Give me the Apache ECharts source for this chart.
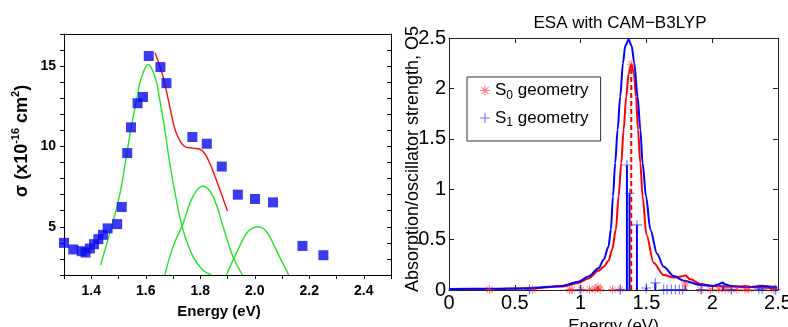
<!DOCTYPE html>
<html>
<head>
<meta charset="utf-8">
<script src="https://cdn.jsdelivr.net/npm/echarts@6/dist/echarts.min.js"></script>
<style>
  html, body { margin: 0; padding: 0; background: #fff; }
  #chart { width: 788px; height: 327px; }
</style>
</head>
<body>
<div id="chart"></div>
<script>
// ---- left panel: measured cross-section (blue squares) + gaussian fit ----
const absX = [1.300, 1.334, 1.365, 1.379, 1.395, 1.410, 1.426, 1.443, 1.460, 1.495, 1.512, 1.532, 1.546,
  1.570, 1.590, 1.611, 1.654, 1.676, 1.771, 1.824, 1.879, 1.938, 2.001, 2.067, 2.175, 2.252];
const absY = [4.00, 3.59, 3.48, 3.40, 3.65, 3.92, 4.23, 4.50, 4.90, 5.17, 6.23, 9.59, 11.19,
  12.69, 13.08, 15.63, 14.94, 13.94, 10.59, 10.17, 8.75, 7.00, 6.73, 6.52, 3.81, 3.23];

const g1X = [1.434, 1.471, 1.503, 1.525, 1.545, 1.569, 1.582, 1.609, 1.637, 1.649, 1.670, 1.688, 1.710, 1.737, 1.774, 1.810, 1.841];
const g1Y = [2.61, 4.79, 6.88, 8.96, 11.04, 13.13, 14.17, 15.10, 14.17, 13.13, 11.04, 8.96, 6.88, 4.79, 3.13, 2.29, 2.00];
const g2X = [1.670, 1.700, 1.737, 1.773, 1.810, 1.847, 1.884, 1.920, 1.955];
const g2Y = [2.00, 3.75, 5.21, 6.88, 7.54, 6.88, 5.00, 3.13, 2.00];
const g3X = [1.896, 1.926, 1.969, 1.990, 2.012, 2.035, 2.055, 2.091, 2.125];
const g3Y = [2.00, 3.13, 4.58, 4.90, 5.00, 4.85, 4.38, 3.13, 2.00];
const fitX = [1.634, 1.663, 1.688, 1.712, 1.743, 1.773, 1.804, 1.829, 1.859, 1.900];
const fitY = [15.84, 14.38, 12.50, 10.84, 10.00, 9.90, 9.79, 9.17, 7.92, 5.98];

// ---- right panel: ESA spectra (CAM-B3LYP) ----
const s1CurveX = [0, 0.30, 0.60, 0.86, 0.984, 1.06, 1.136, 1.175, 1.212, 1.230, 1.246, 1.263, 1.281, 1.301, 1.322, 1.339,
  1.365, 1.388, 1.408, 1.433, 1.454, 1.471, 1.497, 1.530, 1.581, 1.631, 1.707, 1.783, 1.910, 2.011, 2.045,
  2.075, 2.105, 2.138, 2.265, 2.367, 2.494];
const s1CurveY = [0.010, 0.012, 0.018, 0.040, 0.083, 0.133, 0.215, 0.30, 0.43, 0.60, 0.93, 1.26, 1.59, 1.92, 2.25, 2.42,
  2.485, 2.42, 2.25, 1.92, 1.59, 1.26, 0.93, 0.60, 0.36, 0.23, 0.139, 0.093, 0.050, 0.040, 0.055,
  0.073, 0.055, 0.040, 0.027, 0.040, 0.027];
const s0CurveX = [0, 0.30, 0.60, 0.86, 0.984, 1.06, 1.136, 1.175, 1.212, 1.240, 1.268, 1.289, 1.309, 1.327, 1.347, 1.365,
  1.385, 1.405, 1.421, 1.436, 1.454, 1.471, 1.500, 1.555, 1.631, 1.707, 1.758, 1.796, 1.834, 1.910, 2.011,
  2.113, 2.215, 2.250, 2.316, 2.494];
const s0CurveY = [0.010, 0.011, 0.016, 0.035, 0.070, 0.115, 0.190, 0.23, 0.29, 0.40, 0.60, 0.93, 1.26, 1.59, 1.92, 2.15,
  2.24, 2.15, 1.92, 1.59, 1.26, 0.93, 0.55, 0.27, 0.149, 0.123, 0.133, 0.143, 0.106, 0.060, 0.040,
  0.033, 0.035, 0.040, 0.027, 0.013];

// oscillator strengths (sticks)
const s0X = [0.307, 0.634, 0.916, 0.934, 1.005, 1.068, 1.111, 1.132, 1.149, 1.243, 1.301, 1.385, 1.796,
  1.910, 1.986, 2.050, 2.100, 2.146, 2.189, 2.248, 2.278, 2.468];
const s0Y = [0.004, 0.004, 0.004, 0.004, 0.004, 0.006, 0.01, 0.03, 0.008, 0.004, 0.006, 2.24, 0.07,
  0.004, 0.004, 0.008, 0.01, 0.006, 0.006, 0.01, 0.006, 0.004];
const s1X = [0.611, 0.997, 1.301, 1.352, 1.372, 1.428, 1.499, 1.568, 1.631, 1.657, 1.690, 1.720, 1.750,
  1.776, 1.918, 2.083, 2.146, 2.354, 2.380, 2.481];
const s1Y = [0.004, 0.004, 0.006, 1.24, 0.96, 0.646, 0.02, 0.07, 0.004, 0.004, 0.004, 0.004, 0.004,
  0.004, 0.004, 0.04, 0.006, 0.008, 0.008, 0.004];

const pairs = (xs, ys) => xs.map((x, i) => [x, ys[i]]);

const plusPath = 'path://M4.4,0h1.2v4.4h4.4v1.2h-4.4v4.4h-1.2v-4.4h-4.4v-1.2h4.4z';
const starPath = 'path://M4.45,0h1.1v10h-1.1z M0,4.45h10v1.1h-10z M1.2,1.9L1.9,1.2L8.8,8.1L8.1,8.8z M8.1,1.2L8.8,1.9L1.9,8.8L1.2,8.1z';

const boldFont = { fontFamily: 'Liberation Sans', fontWeight: 'bold', color: '#000' };
const plainFont = { fontFamily: 'Liberation Sans', fontWeight: 'normal', color: '#000' };

const chart = echarts.init(document.getElementById('chart'));

function stemItem(color, dash) {
  return function (params, api) {
    const p0 = api.coord([api.value(0), 0]);
    const p1 = api.coord([api.value(0), api.value(1)]);
    return {
      type: 'line',
      shape: { x1: p0[0], y1: p0[1], x2: p1[0], y2: p1[1] },
      style: { stroke: color, lineWidth: 2, lineDash: dash }
    };
  };
}

const option = {
  animation: false,
  backgroundColor: '#fff',
  title: {
    text: 'ESA with CAM\u2212B3LYP',
    left: 615,
    top: 10,
    textAlign: 'center',
    textStyle: { ...plainFont, fontSize: 17 }
  },
  legend: {
    left: 467,
    top: 77,
    orient: 'vertical',
    padding: [5, 12, 12, 13],
    itemGap: 8,
    itemWidth: 10,
    itemHeight: 10,
    backgroundColor: '#fff',
    borderColor: '#333',
    borderWidth: 1,
    borderRadius: 0,
    data: [
      { name: 'S0 geometry', icon: starPath },
      { name: 'S1 geometry', icon: plusPath }
    ],
    formatter: name => name === 'S0 geometry'
      ? '{n|S}{s|0}{n| geometry}'
      : '{n|S}{s|1}{n| geometry}',
    textStyle: {
      ...plainFont,
      rich: {
        n: { ...plainFont, fontSize: 17, lineHeight: 22 },
        s: { ...plainFont, fontSize: 12, lineHeight: 12, verticalAlign: 'bottom' }
      }
    }
  },
  grid: [
    { left: 64, top: 34, width: 327, height: 241, outerBoundsMode: 'none' },
    { left: 449, top: 38, width: 329, height: 252, outerBoundsMode: 'none' }
  ],
  xAxis: [
    {
      gridIndex: 0, type: 'value', min: 1.3, max: 2.5, interval: 0.1, position: 'bottom',
      axisLine: { lineStyle: { color: '#000', width: 1 } },
      axisTick: { inside: false, length: 4, lineStyle: { color: '#000' } },
      axisLabel: {
        ...boldFont, fontSize: 14, margin: 9,
        formatter: v => (Math.round(v * 10) % 2 === 0 ? v.toFixed(1) : '')
      },
      splitLine: { show: false },
      name: 'Energy (eV)', nameLocation: 'middle', nameGap: 29,
      nameTextStyle: { ...boldFont, fontSize: 15, padding: [0, 17, 0, 0] }
    },
    {
      gridIndex: 0, type: 'value', min: 1.3, max: 2.5, position: 'top',
      axisLine: { onZero: false, lineStyle: { color: '#000', width: 1 } },
      axisTick: { show: false }, axisLabel: { show: false }, splitLine: { show: false }
    },
    {
      gridIndex: 1, type: 'value', min: 0, max: 2.5, interval: 0.5, position: 'bottom',
      axisLine: { onZero: false, lineStyle: { color: '#222', width: 1 } },
      axisTick: { inside: true, length: 5, lineStyle: { color: '#222' } },
      axisLabel: { ...plainFont, fontSize: 20, margin: 3 },
      splitLine: { show: false },
      name: 'Energy (eV)', nameLocation: 'middle', nameGap: 20,
      nameTextStyle: { ...plainFont, fontSize: 17 }
    },
    {
      gridIndex: 1, type: 'value', min: 0, max: 2.5, interval: 0.5, position: 'top',
      axisLine: { onZero: false, lineStyle: { color: '#222', width: 1 } },
      axisTick: { inside: true, length: 5, lineStyle: { color: '#222' } },
      axisLabel: { show: false }, splitLine: { show: false }
    }
  ],
  yAxis: [
    {
      gridIndex: 0, type: 'value', min: 2, max: 17, interval: 1, position: 'left',
      axisLine: { show: true, lineStyle: { color: '#000', width: 1 } },
      axisTick: { inside: false, length: 4, lineStyle: { color: '#000' } },
      axisLabel: {
        ...boldFont, fontSize: 14, margin: 8,
        formatter: v => (v % 5 === 0 ? String(v) : '')
      },
      splitLine: { show: false },
      name: '{b|\u03c3 (x10}{p|-16}{b| cm}{p|2}{b|)}',
      nameLocation: 'middle', nameGap: 30,
      nameTextStyle: {
        ...boldFont, padding: [0, 0, 0, 27],
        rich: {
          b: { ...boldFont, fontSize: 18, lineHeight: 24 },
          p: { ...boldFont, fontSize: 11, lineHeight: 11, verticalAlign: 'top' }
        }
      }
    },
    {
      gridIndex: 0, type: 'value', min: 2, max: 17, interval: 1, position: 'right',
      axisLine: { show: true, onZero: false, lineStyle: { color: '#000', width: 1 } },
      axisTick: { inside: true, length: 4, lineStyle: { color: '#000' } },
      axisLabel: { show: false }, splitLine: { show: false }
    },
    {
      gridIndex: 1, type: 'value', min: 0, max: 2.5, interval: 0.5, position: 'left',
      axisLine: { show: true, onZero: false, lineStyle: { color: '#222', width: 1 } },
      axisTick: { inside: true, length: 5, lineStyle: { color: '#222' } },
      axisLabel: { ...plainFont, fontSize: 20, margin: 3 },
      splitLine: { show: false },
      name: 'Absorption/oscillator strength, O5',
      nameLocation: 'middle', nameGap: 27, nameMoveOverlap: false,
      nameTextStyle: { ...plainFont, fontSize: 18, padding: [0, 0, 0, 10] }
    },
    {
      gridIndex: 1, type: 'value', min: 0, max: 2.5, interval: 0.5, position: 'right',
      axisLine: { show: true, onZero: false, lineStyle: { color: '#222', width: 1 } },
      axisTick: { inside: true, length: 5, lineStyle: { color: '#222' } },
      axisLabel: { show: false }, splitLine: { show: false }
    }
  ],
  series: [
    // left panel
    {
      type: 'line', xAxisIndex: 0, yAxisIndex: 0, data: pairs(g1X, g1Y), smooth: 0.4,
      showSymbol: false, lineStyle: { color: '#22e622', width: 1.4 }, z: 2
    },
    {
      type: 'line', xAxisIndex: 0, yAxisIndex: 0, data: pairs(g2X, g2Y), smooth: 0.4,
      showSymbol: false, lineStyle: { color: '#22e622', width: 1.4 }, z: 2
    },
    {
      type: 'line', xAxisIndex: 0, yAxisIndex: 0, data: pairs(g3X, g3Y), smooth: 0.4,
      showSymbol: false, lineStyle: { color: '#22e622', width: 1.4 }, z: 2
    },
    {
      type: 'line', xAxisIndex: 0, yAxisIndex: 0, data: pairs(fitX, fitY), smooth: 0.4,
      showSymbol: false, lineStyle: { color: '#f01010', width: 1.4 }, z: 2
    },
    {
      type: 'scatter', xAxisIndex: 0, yAxisIndex: 0, data: pairs(absX, absY),
      symbol: 'rect', symbolSize: 10, itemStyle: { color: '#0a0aee' }, z: 3
    },
    // right panel
    {
      type: 'line', xAxisIndex: 2, yAxisIndex: 2, data: pairs(s0CurveX, s0CurveY), smooth: 0.3,
      smoothMonotone: 'x', showSymbol: false, lineStyle: { color: '#ff0000', width: 2 }, z: 2
    },
    {
      type: 'line', xAxisIndex: 2, yAxisIndex: 2, data: pairs(s1CurveX, s1CurveY), smooth: 0.3,
      smoothMonotone: 'x', showSymbol: false, lineStyle: { color: '#0000ff', width: 2 }, z: 2
    },
    {
      type: 'custom', xAxisIndex: 2, yAxisIndex: 2, data: pairs(s1X, s1Y),
      renderItem: stemItem('#0000ff', null), silent: true, z: 3
    },
    {
      type: 'custom', xAxisIndex: 2, yAxisIndex: 2, data: pairs(s0X, s0Y),
      renderItem: stemItem('#ff0000', [5, 3]), silent: true, z: 3
    },
    {
      name: 'S0 geometry', type: 'scatter', xAxisIndex: 2, yAxisIndex: 2, data: pairs(s0X, s0Y),
      symbol: starPath, symbolSize: 9, itemStyle: { color: 'rgba(255,40,40,0.75)' }, z: 4
    },
    {
      name: 'S1 geometry', type: 'scatter', xAxisIndex: 2, yAxisIndex: 2, data: pairs(s1X, s1Y),
      symbol: plusPath, symbolSize: 10, itemStyle: { color: 'rgba(40,40,255,0.75)' }, z: 4
    }
  ]
};

chart.setOption(option);
</script>
</body>
</html>
